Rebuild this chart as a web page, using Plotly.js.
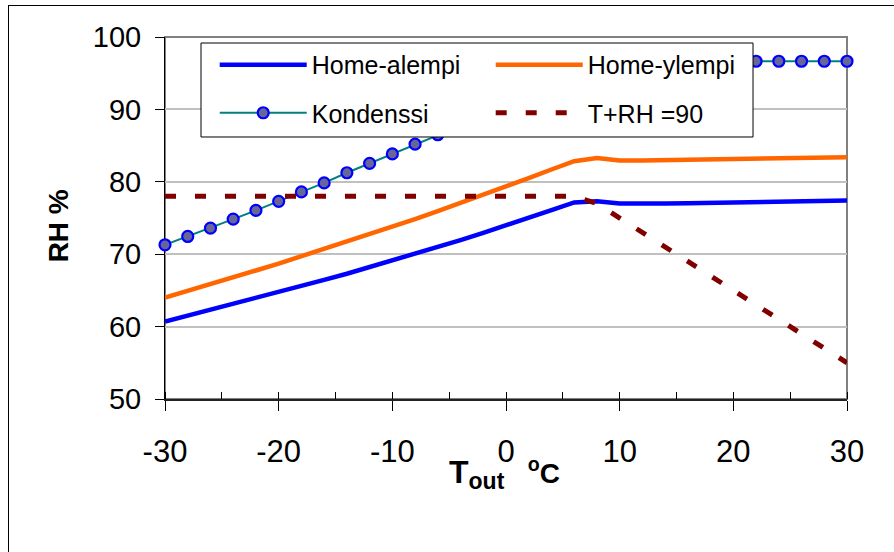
<!DOCTYPE html>
<html><head><meta charset="utf-8">
<script src="https://cdn.plot.ly/plotly-3.0.1.min.js"></script>
<style>
html,body{margin:0;padding:0;background:#fff;}
#wrap{position:relative;width:894px;height:552px;overflow:hidden;background:#fff;}
#frame{position:absolute;left:8px;top:5px;width:1000px;height:1000px;border-left:1.5px solid #000;border-top:1.5px solid #000;}
#chart{position:absolute;left:0;top:0;width:894px;height:552px;}
</style></head><body>
<div id="wrap"><div id="frame"></div><div id="chart"></div></div>
<script>
const temps = [-30,-28,-26,-24,-22,-20,-18,-16,-14,-12,-10,-8,-6,-4,-2,0,2,4,6,8,10,12,14,16,18,20,22,24,26,28,30];
const homeAlempi = [60.7,61.5,62.3,63.1,63.95,64.8,65.6,66.45,67.3,68.2,69.1,70.05,71.0,71.95,72.95,74.05,75.1,76.1,77.15,77.3,77.0,76.95,77.0,77.05,77.1,77.15,77.2,77.25,77.3,77.35,77.4];
const homeYlempi = [64.0,64.9,65.85,66.8,67.75,68.7,69.7,70.7,71.7,72.75,73.8,74.85,75.95,77.05,78.2,79.35,80.5,81.7,82.85,83.3,82.95,82.95,83.0,83.05,83.1,83.15,83.2,83.25,83.3,83.35,83.4];
const kondenssi = [71.3,72.45,73.6,74.85,76.05,77.3,78.6,79.85,81.25,82.55,83.85,85.2,86.5,87.8,89.1,90.4,91.6,92.8,93.9,94.8,95.5,96.0,96.3,96.5,96.6,96.65,96.65,96.65,96.65,96.65,96.65];
const tRh90 = [78,78,78,78,78,78,78,78,78,78,78,78,78,78,78,78,78,78,78,77,75,73,71,69,67,65,63,61,59,57,55];
const xTicks = [-30,-20,-10,0,10,20,30];
const yTicks = [50,60,70,80,90,100];
const xTitle = '<span style="font-size:32px">T</span><sub><span style="font-size:23px">out</span></sub>&nbsp;&nbsp;&nbsp;<sup>o</sup>C';
const yTitle = 'RH %&nbsp;&nbsp;';

const FONT = "Arial, 'Liberation Sans', sans-serif";

const traces = [
  {x: temps, y: homeAlempi, name: 'Home-alempi', mode: 'lines', legend: 'legend',
   line: {color: '#0000FF', width: 4.5}},
  {x: temps, y: homeYlempi, name: 'Home-ylempi', mode: 'lines', legend: 'legend',
   line: {color: '#FF6600', width: 4.5}},
  {x: temps, y: kondenssi, name: 'Kondenssi', mode: 'lines+markers', legend: 'legend2', cliponaxis: false,
   line: {color: '#008080', width: 2},
   marker: {symbol: 'circle', size: 11, color: '#666699', line: {color: '#0000FF', width: 2.2}}},
  {x: temps, y: tRh90, name: 'T+RH =90', mode: 'lines', legend: 'legend2',
   line: {color: '#800000', width: 5, dash: '11px,19px'}}
];

const legendCommon = {
  orientation: 'h', xanchor: 'left', yanchor: 'middle',
  entrywidth: 174, entrywidthmode: 'pixels', itemwidth: 87,
  font: {family: FONT, size: 25, color: '#000'},
  bgcolor: 'rgba(0,0,0,0)', borderwidth: 0, traceorder: 'normal'
};

const layout = {
  width: 894, height: 552,
  margin: {l: 165, r: 47, t: 37, b: 153},
  paper_bgcolor: 'rgba(0,0,0,0)', plot_bgcolor: '#FFFFFF',
  font: {family: FONT, color: '#000'},
  showlegend: true,
  legend: Object.assign({}, legendCommon, {x: 0.0729, y: 0.9227}),
  legend2: Object.assign({}, legendCommon, {x: 0.0729, y: 0.790}),
  xaxis: {
    range: [-30, 30], tickmode: 'array', tickvals: xTicks, ticktext: xTicks.map(String),
    ticks: 'outside', ticklen: 10, tickwidth: 1, tickcolor: '#000',
    minor: {dtick: 5, tick0: 0, ticks: 'inside', ticklen: 7, tickwidth: 1, tickcolor: '#000', showgrid: false},
    showgrid: false, zeroline: false, showline: true, linecolor: '#222', linewidth: 2,
    tickfont: {family: FONT, size: 31, color: '#000'}, ticklabelstandoff: 14,
    layer: 'below traces', fixedrange: true
  },
  yaxis: {
    range: [50, 100], tickmode: 'array', tickvals: yTicks, ticktext: yTicks.map(String),
    ticks: 'outside', ticklen: 9, tickwidth: 1, tickcolor: '#000',
    showgrid: true, gridcolor: '#C0C0C0', gridwidth: 2,
    zeroline: false, showline: true, linecolor: '#000', linewidth: 1,
    tickfont: {family: FONT, size: 29, color: '#000'}, ticklabelstandoff: 8,
    title: {text: yTitle, font: {family: FONT, size: 28, color: '#000', weight: 'bold'}, standoff: 16},
    layer: 'below traces', fixedrange: true
  },
  annotations: [
    {text: xTitle, xref: 'paper', yref: 'paper', x: 0.4985, y: -0.1436,
     xanchor: 'center', yanchor: 'top', showarrow: false,
     font: {family: FONT, size: 28, color: '#000', weight: 'bold'}}
  ],
  shapes: [
    {type: 'rect', xref: 'paper', yref: 'paper', x0: 0, x1: 1, y0: 0, y1: 1,
     line: {color: '#808080', width: 2}, fillcolor: 'rgba(0,0,0,0)', layer: 'between'},
    {type: 'rect', xref: 'paper', yref: 'paper', x0: 0.0528, x1: 0.8622, y0: 0.7238, y1: 0.9834,
     line: {color: '#000', width: 1}, fillcolor: '#FFFFFF', layer: 'above'}
  ]
};

Plotly.newPlot('chart', traces, layout, {displayModeBar: false, staticPlot: true});
</script>
</body></html>
